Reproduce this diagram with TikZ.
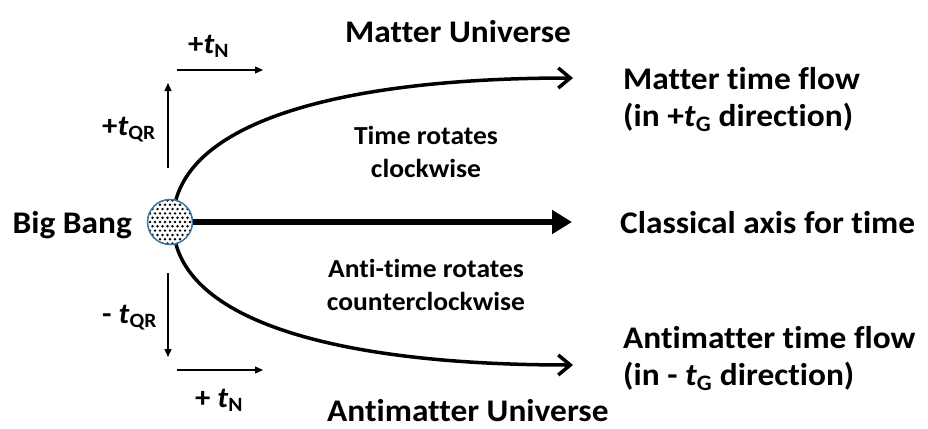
\documentclass[tikz,border=0pt]{standalone}
\usepackage{fontspec}
\setmainfont{Carlito}[FakeStretch=1.06, Ligatures=NoCommon]
\usepackage{tikz}
\usetikzlibrary{arrows.meta, positioning}
\definecolor{BangBlue}{RGB}{60,120,160}
\newcommand{\tvar}[1]{\textit{t}\textsubscript{#1}}

\begin{document}
\begin{tikzpicture}[
    x=1pt, y=-1pt,
    big/.style={inner sep=0pt, font=\fontsize{31.5}{37}\selectfont\bfseries, align=left},
    mid/.style={inner sep=0pt, font=\fontsize{26}{33}\selectfont\bfseries, align=center},
    small/.style={inner sep=0pt, font=\fontsize{29}{33}\selectfont\bfseries},
    flow/.style={line width=3.5pt, -{Straight Barb[length=12pt,width=20pt,line width=3.5pt]}},
    axis/.style={line width=6pt, -{Triangle[length=20pt,width=23pt]}},
    dir/.style={line width=1.2pt, -{Triangle[length=8pt,width=7pt]}},
    bang/.style={circle, draw=BangBlue, line width=1.5pt, fill=white, minimum size=45pt, inner sep=0pt,
                 path picture={
                   \foreach \r in {-6,...,6}
                     \foreach \c in {-5,...,5}
                       \fill[black, shift={(path picture bounding box.center)}]
                         ({\c*5+mod(abs(\r),2)*2.5},{\r*4.3}) circle (1.35pt);
                 }}
]
\useasboundingbox (0,0) rectangle (928,428);

\node[bang] (bb) at (170,222) {};
\node[big, anchor=base east] (bblabel) at (132,233) {Big Bang};

\coordinate (mtip) at (573,78);
\coordinate (ctip) at (572,222);
\coordinate (atip) at (573,365);
\draw[flow] (bb.75) .. controls (200,115) and (360,78) .. (mtip);
\draw[axis] (bb.east) -- (ctip);
\draw[flow] (bb.-75) .. controls (200,329) and (360,365) .. (atip);

\node[big, anchor=base west] (mu) at (345,42) {Matter Universe};
\node[big, anchor=base west] (au) at (327,421) {Antimatter Universe};
\node[mid, anchor=base] (trot) at (426,177) {Time rotates\\clockwise};
\node[mid, anchor=base] (arot) at (426,310) {Anti-time rotates\\counterclockwise};

\node[big, anchor=base west] (mflow) at (623,126) {Matter time flow\\(in +\tvar{G} direction)};
\node[big, anchor=base west] (cflow) at (620,233) {Classical axis for time};
\node[big, anchor=base west] (aflow) at (623,385) {Antimatter time flow\\(in - \tvar{G} direction)};

% small direction arrows
\coordinate (qu1) at (168,168); \coordinate (qu2) at (168,83);
\coordinate (nu1) at (177,70);  \coordinate (nu2) at (263,70);
\coordinate (qd1) at (168,273); \coordinate (qd2) at (168,357);
\coordinate (nd1) at (177,370); \coordinate (nd2) at (263,370);
\draw[dir] (qu1) -- (qu2); \draw[dir] (nu1) -- (nu2);
\draw[dir] (qd1) -- (qd2); \draw[dir] (nd1) -- (nd2);
\node[small, anchor=base west] (tnu) at (188,53) {+\tvar{N}};
\node[small, anchor=base west] (tqu) at (102,135) {+\tvar{QR}};
\node[small, anchor=base west] (tqd) at (102,323) {- \tvar{QR}};
\node[small, anchor=base west] (tnd) at (195,407) {+ \tvar{N}};
\end{tikzpicture}
\end{document}
